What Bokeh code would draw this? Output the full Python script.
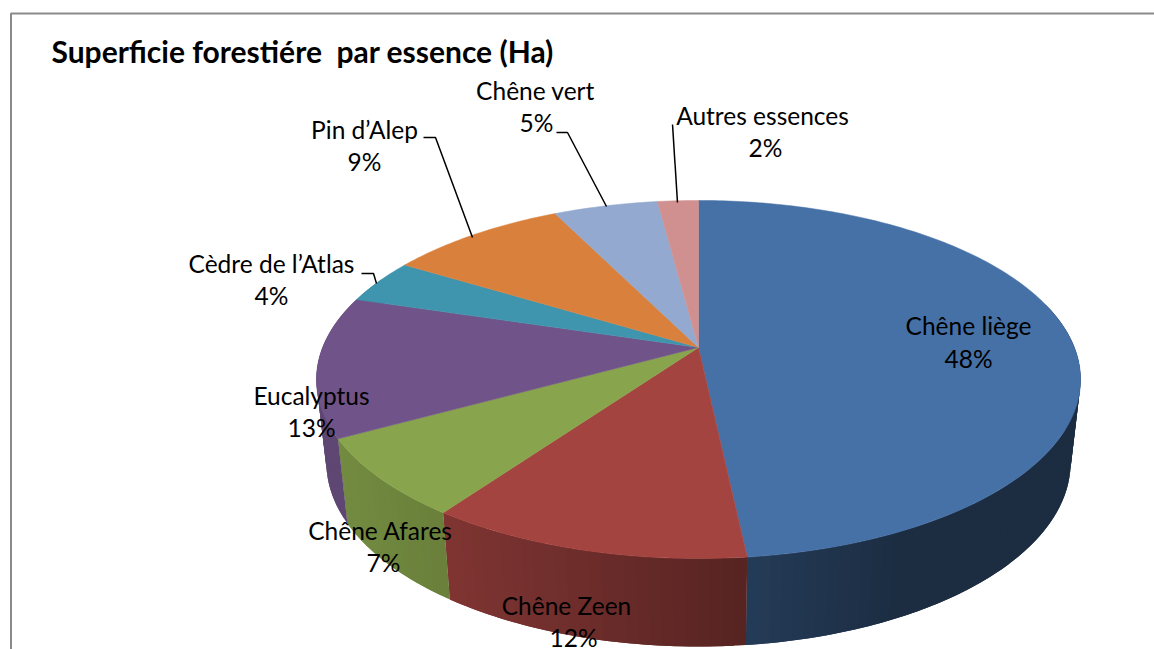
import numpy as np
from bokeh.plotting import figure
from bokeh.embed import file_html
from bokeh.resources import INLINE
from bokeh.core.properties import value

title = "Superficie forestiére \u00a0par essence (Ha)"
categories = ["Chêne liège", "Chêne Zeen", "Chêne Afares", "Eucalyptus",
              "Cèdre de l’Atlas", "Pin d’Alep", "Chêne vert", "Autres essences"]
shares = [48.3, 11.55, 7.15, 12.7, 4.0, 9.0, 5.25, 2.05]
colors = ["#4671a6", "#a44441", "#88a44c", "#705489",
          "#3f95ae", "#d9813c", "#93a9cf", "#d09090"]
label_x = [968, 566, 380, 311, 271, 364, 535, 762]
label_y = [325, 605, 530, 395, 263, 129, 90, 115]
pct_x = [968, 573, 383, 311, 271, 364, 536, 765]
pct_y = [358, 637, 562, 427, 295, 161, 122, 147]
leaders = [([423, 435, 472], [137, 137, 237]),
           ([556, 567, 606], [132, 132, 206]),
           ([672, 677], [124, 202]),
           ([361, 373, 376], [273, 273, 283])]

# pie geometry, in page pixels
CX, CY, A, B, K = 698.0, 347.0, 375.9, 173.3, 0.1787


def top(theta):
    u, v = np.sin(theta), np.cos(theta)
    w = 1 + K * v
    return CX + A * u / w, CY - B * v / w


def bottom(x, y):
    return CX + 0.974 * (x - CX), 462 + 1.028 * (y - 379)


def shade(color, f):
    r, g, b = (int(color[i:i + 2], 16) for i in (1, 3, 5))
    return "#%02x%02x%02x" % (int(r * f), int(g * f), int(b * f))


p = figure(width=1154, height=649, x_range=(0, 1154), y_range=(649, 0),
           output_backend="svg", toolbar_location=None, min_border=0,
           outline_line_color=None, background_fill_color="white")
p.axis.visible = False
p.grid.visible = False

# frame
p.line([1154, 10.5, 10.5], [13, 13, 649], line_color="#8a8a8a", line_width=2)

edges = np.cumsum([0] + shares) / sum(shares) * 2 * np.pi

# side wall, as thin overlapping strips painted in order
for i, c in enumerate(colors):
    a0, a1 = max(edges[i], np.radians(75)), min(edges[i + 1], np.radians(295))
    if a1 <= a0:
        continue
    n = max(2, int((a1 - a0) / np.radians(1.5)))
    ts = np.linspace(a0, a1, n + 1)
    xs, ys, cols = [], [], []
    for k in range(n):
        t0 = ts[k]
        t1 = ts[min(k + 2, n)]
        t = (ts[k] + ts[k + 1]) / 2
        arc = np.linspace(t0, t1, 4)
        x, y = top(arc)
        bx, by = bottom(x, y)
        xs.append(np.r_[x, bx[::-1]])
        ys.append(np.r_[y, by[::-1]])
        f = np.interp(top(t)[0], [336, 443, 748, 900, 1080], [0.85, 0.78, 0.53, 0.40, 0.40])
        cols.append(shade(c, f))
    p.patches(xs, ys, fill_color=cols, line_color=None)

# top face
for i, c in enumerate(colors):
    ts = np.linspace(edges[i], edges[i + 1], max(3, int(shares[i] * 4)))
    x, y = top(ts)
    p.patch(np.r_[CX, x], np.r_[CY, y], fill_color=c, line_color=c, line_width=0.5)

# leader lines
for lx, ly in leaders:
    p.line(lx, ly, line_color="black", line_width=1.5)

FONT = value("Lato")
p.text(label_x, label_y, text=categories, text_font=FONT, text_font_size="24.5px",
       text_align="center", text_baseline="middle", text_color="black")
p.text(pct_x, pct_y, text=["%.0f%%" % s for s in shares], text_font=FONT, text_font_size="24.5px",
       text_align="center", text_baseline="middle", text_color="black")
p.text([51], [50.5], text=[title], text_font=FONT, text_font_size="30px",
       text_font_style="bold", text_align="left", text_baseline="middle", text_color="black")

open("out.html", "w").write(file_html(p, INLINE))
